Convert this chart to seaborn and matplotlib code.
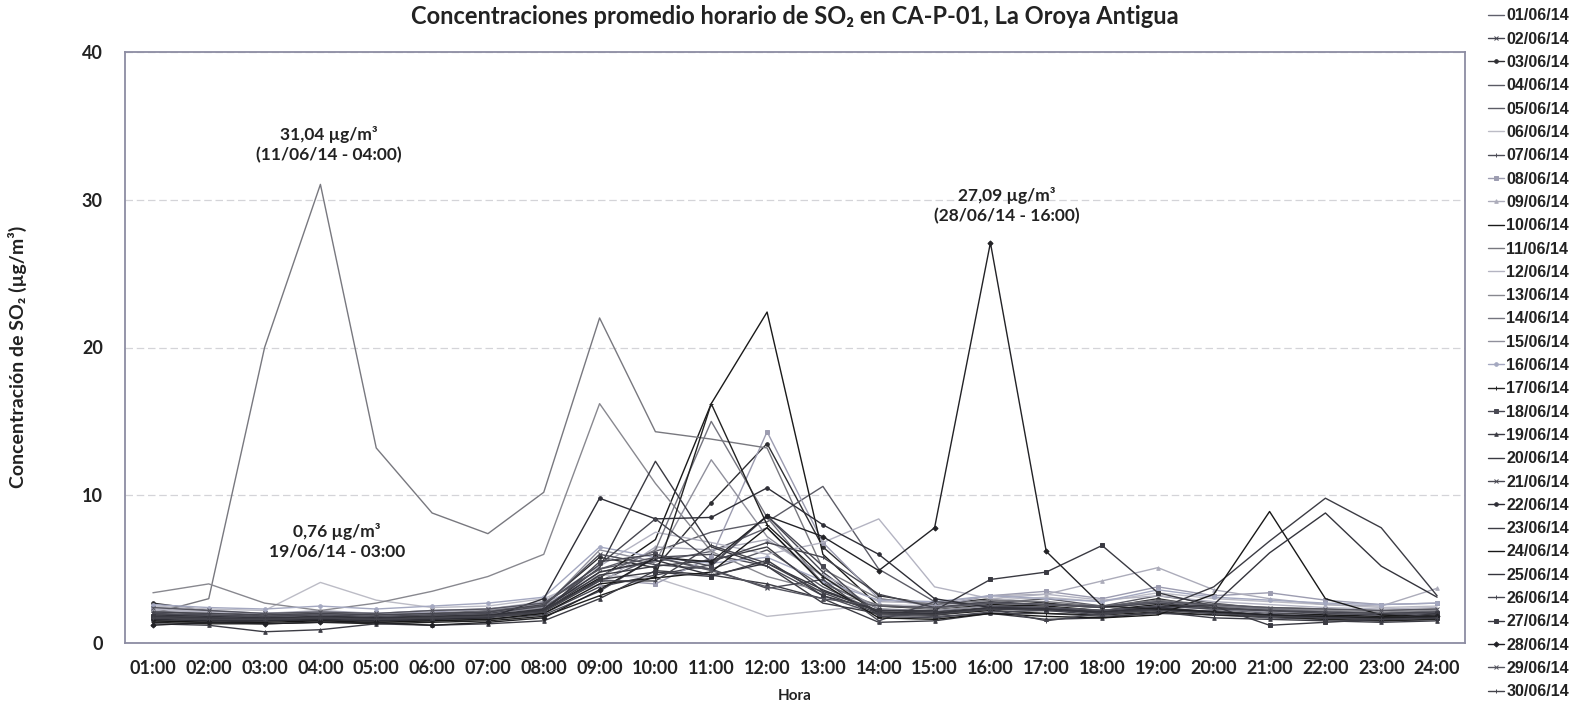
import matplotlib
matplotlib.use("Agg")
import matplotlib.pyplot as plt
import seaborn as sns

# hours on the x axis
horas = ["01:00", "02:00", "03:00", "04:00", "05:00", "06:00", "07:00", "08:00",
         "09:00", "10:00", "11:00", "12:00", "13:00", "14:00", "15:00", "16:00",
         "17:00", "18:00", "19:00", "20:00", "21:00", "22:00", "23:00", "24:00"]

# hourly SO2 averages per day (ug/m3)
d01 = [2.0, 1.8, 1.7, 1.8, 1.7, 1.9, 2.0, 2.4, 4.8, 5.5, 6.2, 7.8, 4.1, 2.3, 2.1, 2.6, 2.4, 2.2, 2.6, 2.3, 2.0, 1.9, 1.8, 1.9]
d02 = [1.6, 1.5, 1.6, 1.5, 1.6, 1.7, 1.8, 2.0, 3.8, 4.6, 5.3, 8.6, 4.8, 2.0, 1.9, 2.3, 2.2, 2.1, 2.4, 2.1, 1.8, 1.7, 1.6, 1.7]
d03 = [2.7, 2.2, 1.8, 1.9, 1.7, 1.9, 2.1, 2.6, 5.8, 5.1, 9.5, 13.5, 6.5, 3.2, 2.6, 3.0, 2.7, 2.4, 3.0, 2.4, 2.2, 2.0, 1.9, 2.1]
d04 = [1.8, 1.7, 1.6, 1.7, 1.6, 1.6, 1.8, 2.2, 4.2, 5.8, 5.0, 6.3, 3.8, 2.1, 2.0, 2.4, 2.3, 2.0, 2.2, 2.2, 1.9, 1.8, 1.7, 1.8]
d05 = [2.2, 1.9, 1.8, 2.0, 1.9, 2.0, 2.1, 2.8, 5.0, 6.2, 7.5, 8.2, 10.6, 5.0, 2.8, 2.7, 3.0, 2.5, 3.2, 2.7, 2.3, 2.2, 2.0, 2.2]
d06 = [2.5, 2.3, 2.2, 4.1, 2.9, 2.4, 2.5, 3.0, 4.6, 4.4, 3.2, 1.8, 2.2, 2.6, 2.5, 2.9, 3.1, 2.8, 3.4, 3.0, 2.8, 2.6, 2.4, 2.5]
d07 = [1.5, 1.4, 1.5, 1.6, 1.5, 1.5, 1.6, 1.9, 3.5, 5.8, 6.0, 5.2, 3.2, 1.9, 1.8, 2.0, 2.0, 1.8, 2.0, 1.9, 1.7, 1.6, 1.5, 1.6]
d08 = [2.4, 2.2, 2.0, 2.1, 2.0, 2.1, 2.3, 2.7, 4.3, 4.0, 5.8, 14.3, 6.8, 3.0, 2.5, 3.2, 3.5, 3.0, 3.8, 3.2, 3.4, 2.9, 2.6, 2.7]
d09 = [2.2, 2.1, 2.0, 2.2, 2.0, 2.2, 2.3, 2.6, 4.0, 6.5, 6.3, 7.0, 4.6, 2.8, 2.7, 3.2, 3.3, 4.2, 5.1, 3.6, 3.0, 2.6, 2.5, 3.7]
d10 = [1.9, 1.8, 1.7, 1.8, 1.7, 1.8, 1.9, 2.2, 4.4, 7.0, 16.2, 22.4, 6.0, 2.5, 2.3, 2.6, 2.5, 2.2, 2.6, 2.4, 2.1, 1.9, 1.8, 1.9]
d11 = [2.0, 3.0, 20.0, 31.04, 13.2, 8.8, 7.4, 10.2, 22.0, 14.3, 13.8, 13.2, 5.0, 3.0, 2.6, 2.9, 2.8, 2.5, 2.9, 2.6, 2.4, 2.3, 2.2, 2.3]
d12 = [2.3, 2.1, 2.0, 2.1, 2.0, 2.2, 2.3, 2.8, 5.2, 7.5, 6.8, 6.0, 6.8, 8.4, 3.8, 3.0, 3.3, 2.9, 3.2, 2.8, 2.6, 2.4, 2.3, 2.4]
d13 = [3.4, 4.0, 2.7, 2.2, 2.7, 3.5, 4.5, 6.0, 16.2, 10.8, 6.2, 4.5, 3.5, 2.6, 2.3, 2.7, 2.6, 2.4, 2.7, 2.5, 2.3, 2.2, 2.1, 2.2]
d14 = [2.1, 2.0, 1.9, 2.0, 1.9, 2.0, 2.2, 2.5, 4.5, 6.3, 15.0, 8.5, 4.0, 2.5, 2.4, 2.7, 2.6, 2.4, 2.8, 2.5, 2.3, 2.1, 2.0, 2.1]
d15 = [1.9, 1.8, 1.7, 1.9, 1.8, 1.9, 2.0, 2.4, 6.3, 5.5, 12.4, 7.2, 4.5, 2.3, 2.2, 2.5, 2.4, 2.2, 2.5, 2.3, 2.1, 2.0, 1.9, 2.0]
d16 = [2.6, 2.4, 2.3, 2.5, 2.3, 2.5, 2.7, 3.1, 6.5, 5.8, 5.4, 5.8, 4.2, 2.9, 2.8, 3.2, 3.0, 2.8, 3.6, 3.1, 2.9, 2.7, 2.6, 2.7]
d17 = [1.4, 1.3, 1.3, 1.4, 1.3, 1.4, 1.5, 1.8, 3.2, 4.5, 16.2, 8.0, 4.5, 2.0, 1.9, 2.2, 2.0, 1.9, 2.1, 1.9, 1.8, 1.6, 1.5, 1.6]
d18 = [1.7, 1.6, 1.5, 1.6, 1.5, 1.6, 1.7, 2.1, 5.5, 6.0, 5.2, 8.6, 5.2, 1.8, 1.7, 2.1, 2.2, 1.9, 2.3, 2.0, 1.9, 1.7, 1.6, 1.7]
d19 = [1.3, 1.2, 0.76, 0.9, 1.3, 1.2, 1.3, 1.5, 3.0, 4.9, 4.6, 4.0, 3.0, 1.4, 1.5, 2.0, 1.6, 1.7, 2.1, 1.7, 1.6, 1.5, 1.4, 1.5]
d20 = [1.8, 1.7, 1.6, 1.7, 1.6, 1.7, 1.8, 2.3, 5.1, 12.3, 6.5, 5.2, 2.7, 2.0, 2.0, 2.3, 2.3, 2.0, 2.3, 2.1, 1.9, 1.8, 1.7, 1.8]
d21 = [2.0, 1.9, 1.8, 1.9, 1.8, 1.9, 2.0, 2.5, 6.0, 5.3, 5.0, 3.7, 4.3, 1.5, 2.8, 2.5, 2.4, 2.2, 2.5, 2.3, 2.2, 2.0, 1.9, 2.0]
d22 = [1.6, 1.5, 1.5, 1.6, 1.5, 1.6, 1.7, 3.0, 9.8, 8.4, 8.5, 10.5, 8.0, 6.0, 3.0, 2.4, 2.3, 2.1, 2.4, 2.1, 1.9, 1.7, 1.6, 1.7]
d23 = [1.7, 1.6, 1.6, 1.7, 1.6, 1.7, 1.8, 2.2, 4.6, 5.2, 5.6, 6.5, 3.5, 2.2, 2.1, 2.4, 2.3, 2.1, 2.3, 3.8, 6.9, 9.8, 7.8, 3.2]
d24 = [1.5, 1.4, 1.4, 1.5, 1.4, 1.5, 1.6, 2.0, 4.0, 4.4, 4.8, 7.8, 4.0, 1.7, 1.6, 2.0, 1.8, 1.7, 1.9, 3.3, 8.9, 3.0, 1.9, 1.7]
d25 = [1.9, 1.8, 1.7, 1.8, 1.7, 1.8, 1.9, 2.3, 4.8, 5.6, 4.6, 5.4, 3.6, 2.1, 2.0, 2.4, 2.3, 2.1, 2.4, 2.6, 6.1, 8.8, 5.2, 3.1]
d26 = [2.1, 2.0, 1.9, 2.0, 1.9, 2.0, 2.1, 2.6, 5.3, 8.4, 5.5, 6.8, 5.8, 3.3, 2.4, 2.8, 2.6, 2.4, 2.7, 2.4, 2.2, 2.1, 2.0, 2.1]
d27 = [1.8, 1.7, 1.6, 1.7, 1.6, 1.7, 1.8, 2.2, 4.3, 4.8, 4.5, 5.6, 3.2, 2.2, 2.2, 4.3, 4.8, 6.6, 3.4, 2.5, 1.2, 1.4, 1.6, 2.0]
d28 = [1.2, 1.4, 1.3, 1.4, 1.4, 1.2, 1.4, 1.7, 3.6, 5.8, 5.5, 8.6, 7.2, 4.9, 7.8, 27.09, 6.2, 2.5, 2.3, 2.1, 1.9, 1.8, 1.7, 1.8]
d29 = [2.4, 2.2, 2.0, 2.1, 2.0, 2.2, 2.3, 2.7, 5.0, 5.8, 4.9, 3.8, 3.0, 2.5, 2.4, 2.7, 2.6, 2.5, 2.8, 2.6, 2.4, 2.3, 2.2, 2.3]
d30 = [1.7, 1.6, 1.6, 1.7, 1.6, 1.7, 1.8, 2.1, 4.2, 4.2, 6.6, 5.4, 3.4, 2.0, 1.9, 2.3, 1.5, 2.0, 2.2, 2.0, 1.8, 1.7, 1.6, 1.7]

fechas = ["%02d/06/14" % i for i in range(1, 31)]
series = [d01, d02, d03, d04, d05, d06, d07, d08, d09, d10, d11, d12, d13, d14, d15,
          d16, d17, d18, d19, d20, d21, d22, d23, d24, d25, d26, d27, d28, d29, d30]

# line colours and markers (grey scale, as in the original excel chart)
colores = ["#60606c", "#454550", "#2e2e32", "#5a5a64", "#5c5c66", "#bcbcc6", "#4c4c56",
           "#9c9cb0", "#acacba", "#1a1a1a", "#78787f", "#b4b4c2", "#88888f", "#74747e",
           "#90909c", "#a4a8c0", "#222222", "#484852", "#3c3c44", "#3a3a42", "#4a4a54",
           "#2e2e36", "#3c3c44", "#181818", "#34343c", "#46464f", "#3a3a42", "#222226",
           "#55555f", "#44444c"]
marcadores = [None, "x", "o", None, None, None, "+", "s", "^", None, None, None, None, None,
              None, "o", "+", "s", "^", None, "x", "o", None, None, None, "+", "s", "D",
              "x", "+"]

sns.set_style("white")
plt.rcParams["font.family"] = ["Lato", "DejaVu Sans"]

fig = plt.figure(figsize=(15.82, 7.04), dpi=100)
ax = fig.add_axes([125 / 1582, 1 - 643 / 704, 1340 / 1582, 591 / 704])

for fecha, vals, c, m in zip(fechas, series, colores, marcadores):
    sns.lineplot(x=horas, y=vals, ax=ax, color=c, marker=m, markersize=2.6,
                 markeredgecolor=c, markerfacecolor=c, markeredgewidth=0.7,
                 linewidth=1.0, label=fecha, sort=False)

ax.set_xlim(-0.5, 23.5)
ax.set_ylim(0, 40)
ax.set_yticks([0, 10, 20, 30, 40])
ax.yaxis.grid(True, color="#d4d4d8", linewidth=0.9, linestyle=(0, (6, 3)))
ax.xaxis.grid(False)
for s in ax.spines.values():
    s.set_color("#8c8ca2")
    s.set_linewidth(1.3)
ax.tick_params(axis="both", length=0, labelsize=13, colors="#222222")
ax.tick_params(axis="x", pad=12)
ax.tick_params(axis="y", pad=16)
for t in ax.get_xticklabels() + ax.get_yticklabels():
    t.set_fontweight("bold")

ax.set_xlabel("Hora", fontsize=11, fontweight="bold", color="#222222")
ax.xaxis.set_label_coords(0.5, -0.077)
ax.set_ylabel("Concentración de SO₂ (µg/m³)", fontsize=14, fontweight="bold", color="#222222")
ax.yaxis.set_label_coords(-0.073, 0.484)

fig.text(795 / 1582, 0.977, "Concentraciones promedio horario de SO₂ en CA-P-01, La Oroya Antigua",
         ha="center", va="center", fontsize=17, fontweight="bold", color="#222222")

# annotations of max / min values
ax.text(3.15, 33.7, "31,04 µg/m³\n(11/06/14 - 04:00)", ha="center", va="center",
        fontsize=12.5, fontweight="bold", color="#222222", linespacing=1.3)
ax.text(15.3, 29.6, "27,09 µg/m³\n(28/06/14 - 16:00)", ha="center", va="center",
        fontsize=12.5, fontweight="bold", color="#222222", linespacing=1.3)
ax.text(3.3, 6.9, "0,76 µg/m³\n19/06/14 - 03:00", ha="center", va="center",
        fontsize=12.5, fontweight="bold", color="#222222", linespacing=1.3)

leg = ax.legend(loc="upper left", bbox_to_anchor=(1488 / 1582, 0.988),
                bbox_transform=fig.transFigure, frameon=False,
                labelspacing=0.52, handlelength=1.0, handletextpad=0.15,
                borderpad=0, borderaxespad=0,
                prop={"family": ["Liberation Sans", "DejaVu Sans"], "weight": "bold", "size": 11.5})
for t in leg.get_texts():
    t.set_color("#222222")

fig.savefig("out.png", dpi=100)
